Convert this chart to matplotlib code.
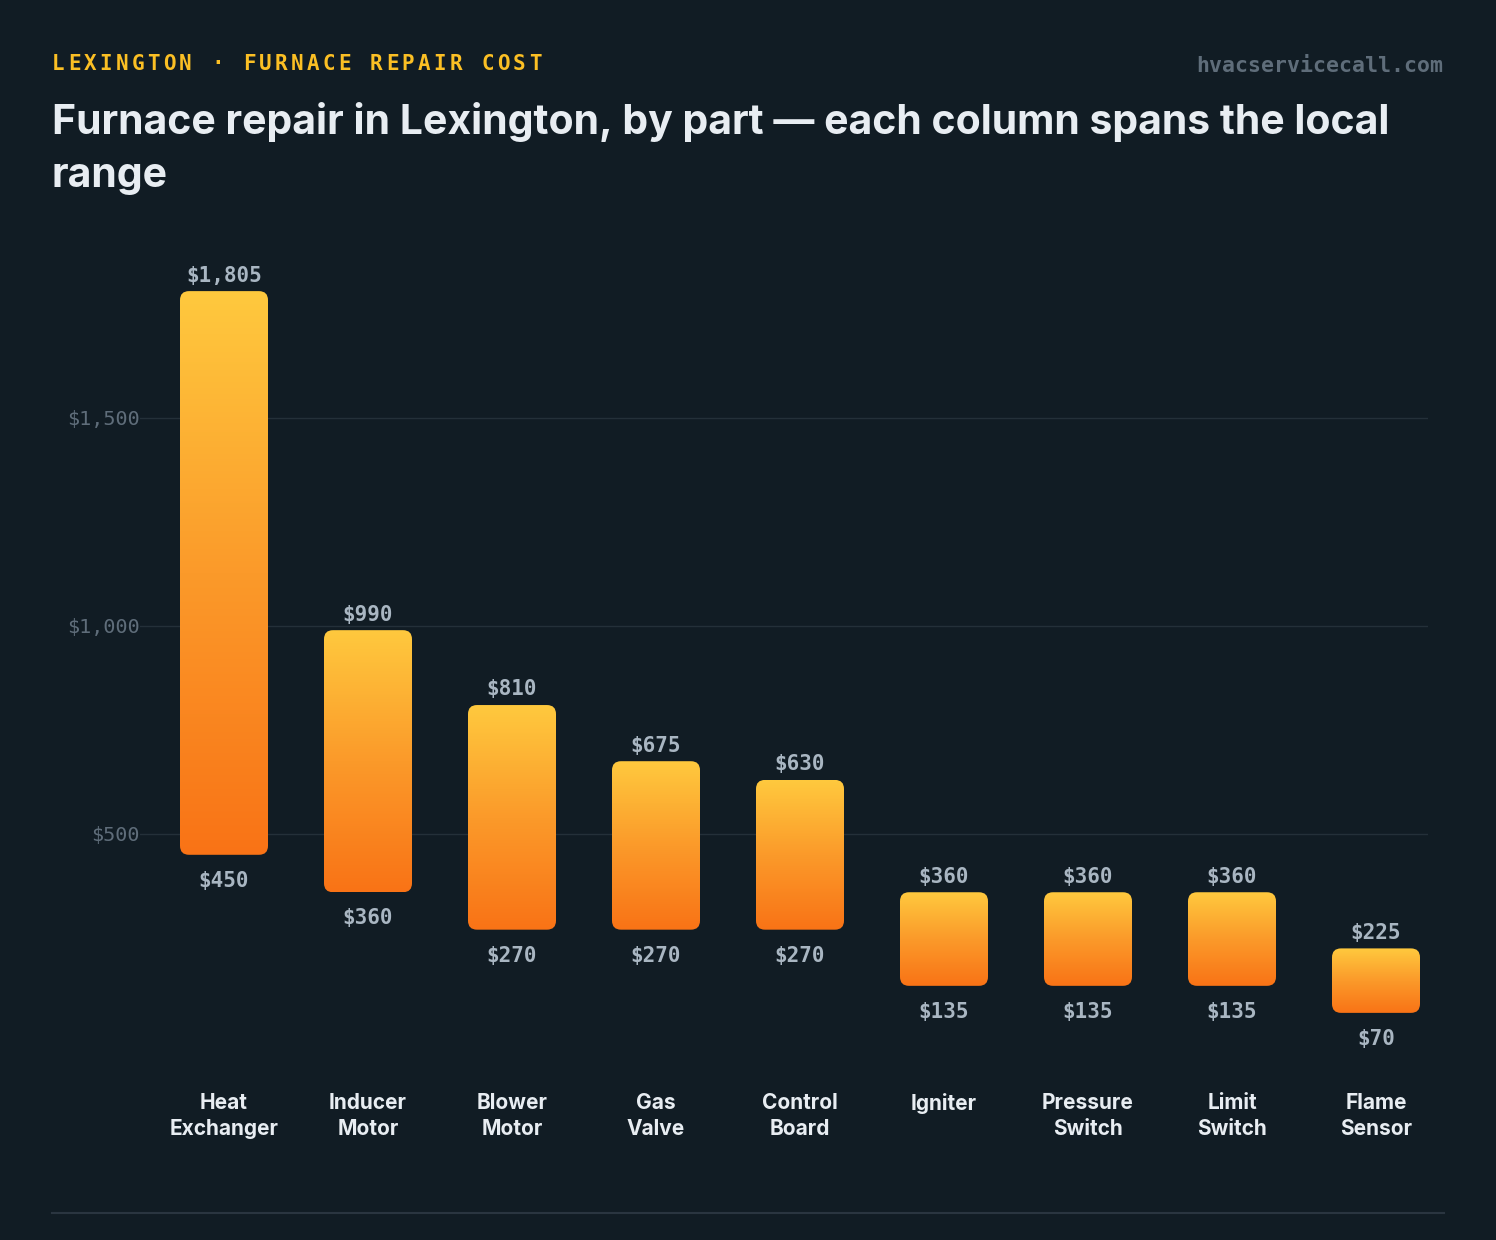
import numpy as np
import matplotlib
matplotlib.use("Agg")
import matplotlib.pyplot as plt
from matplotlib.patches import FancyBboxPatch
from matplotlib.colors import LinearSegmentedColormap
import matplotlib.transforms as mtransforms

# data
parts = ["Heat\nExchanger", "Inducer\nMotor", "Blower\nMotor", "Gas\nValve", "Control\nBoard",
         "Igniter", "Pressure\nSwitch", "Limit\nSwitch", "Flame\nSensor"]
low = [450, 360, 270, 270, 270, 135, 135, 135, 70]
high = [1805, 990, 810, 675, 630, 360, 360, 360, 225]
yticks = [500, 1000, 1500]

BG = "#111c24"
GRID = "#243039"
W, H = 1496, 1240

fig = plt.figure(figsize=(W / 100, H / 100), dpi=100, facecolor=BG)

# axes placed in pixels: x 140..1428, y 250..1042 (zero line)
L, R, T, B = 140, 1428, 250, 1042
ax = fig.add_axes([L / W, 1 - B / H, (R - L) / W, (B - T) / H])
ax.set_facecolor(BG)
px_per_unit = 144
a = -(224 - L) / px_per_unit
ax.set_xlim(a, a + (R - L) / px_per_unit)
ymax = (B - T) / 0.416
ax.set_ylim(0, ymax)
for s in ax.spines.values():
    s.set_visible(False)
ax.set_xticks([])
ax.set_yticks(yticks)
ax.set_yticklabels([f"${v:,}" for v in yticks], family="DejaVu Sans Mono",
                   fontsize=14.5, color="#5f6d7a")
ax.tick_params(axis="y", length=0, pad=0)
ax.grid(axis="y", color=GRID, linewidth=1)
ax.set_axisbelow(True)

cmap = LinearSegmentedColormap.from_list("fire", ["#f97316", "#fb9a2a", "#ffc93e"])
grad = np.linspace(0, 1, 256).reshape(-1, 1)

bw = 88 / px_per_unit
x_per_px = 1 / px_per_unit
y_per_px = ymax / (B - T)
r = 9 * x_per_px
for i, (lo, hi) in enumerate(zip(low, high)):
    patch = FancyBboxPatch((i - bw / 2, lo), bw, hi - lo,
                           boxstyle=f"round,pad=0,rounding_size={r}",
                           mutation_aspect=y_per_px / x_per_px,
                           facecolor="none", edgecolor="none")
    ax.add_patch(patch)
    im = ax.imshow(grad, cmap=cmap, origin="lower", aspect="auto",
                   extent=(i - bw / 2, i + bw / 2, lo, hi), zorder=3)
    im.set_clip_path(patch)
    ax.annotate(f"${hi:,}", (i, hi), xytext=(0, 4), textcoords="offset points",
                ha="center", va="bottom", family="DejaVu Sans Mono", fontweight="bold",
                fontsize=15, color="#a9b6c2", annotation_clip=False)
    ax.annotate(f"${lo:,}", (i, lo), xytext=(0, -11.5), textcoords="offset points",
                ha="center", va="top", family="DejaVu Sans Mono", fontweight="bold",
                fontsize=15, color="#a9b6c2", annotation_clip=False)

ax.set_xlim(a, a + (R - L) / px_per_unit)
ax.set_ylim(0, ymax)

# category labels
trans = mtransforms.blended_transform_factory(ax.transData, fig.transFigure)
for i, p in enumerate(parts):
    ax.text(i, 1 - 1093 / H, p, transform=trans, ha="center", va="top",
            family="Inter", fontweight="bold", fontsize=15, color="#e8edf2",
            linespacing=1.4)

# header kicker, letter-spaced
kicker = "LEXINGTON · FURNACE REPAIR COST"
for k, ch in enumerate(kicker):
    fig.text((52 + k * 15.9) / W, 1 - 64 / H, ch, ha="left", va="center",
             family="DejaVu Sans Mono", fontweight="bold", fontsize=15,
             color="#fbbf24")

fig.text(1443 / W, 1 - 66 / H, "hvacservicecall.com", ha="right", va="center",
         family="DejaVu Sans Mono", fontweight="bold", fontsize=15.5, color="#5f6d7a")

fig.text(52 / W, 1 - 102 / H,
         "Furnace repair in Lexington, by part — each column spans the local\nrange",
         ha="left", va="top", family="Inter", fontweight="bold", fontsize=29.5,
         color="#e8edf2", linespacing=1.5)

# bottom rule
fig.add_artist(plt.Line2D([52 / W, 1444 / W], [1 - 1213 / H, 1 - 1213 / H],
                          color="#2a3540", linewidth=1.5))

fig.savefig("out.png", dpi=100, facecolor=BG)
